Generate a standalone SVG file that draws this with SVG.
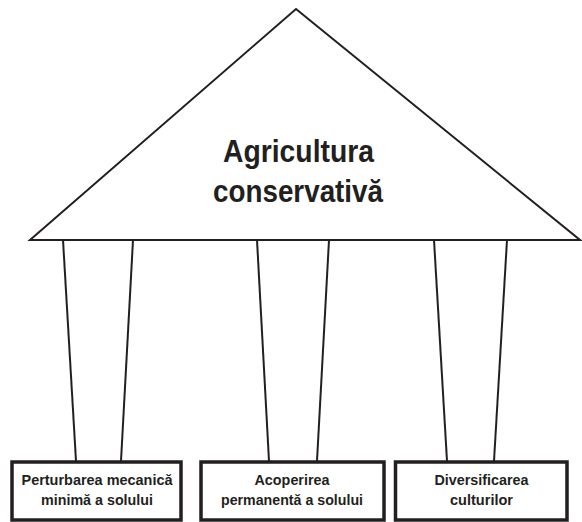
<svg xmlns="http://www.w3.org/2000/svg" width="582" height="522" viewBox="0 0 582 522">
<style>
.ln{stroke:#231f20;stroke-width:2;fill:none;stroke-linejoin:miter}
.box{stroke:#231f20;stroke-width:3.5;fill:#fff}
.t{font-family:"Liberation Sans",Arial,sans-serif;font-weight:bold;fill:#231f20;text-anchor:middle}
.big{font-size:32px}
.sm{font-size:15.5px}
</style>
<rect width="582" height="522" fill="#fff"/>
<g id="roof">
<polygon class="ln" points="296,9 580,240 30,240"/>
<text class="t big" x="298.5" y="162" textLength="151" lengthAdjust="spacingAndGlyphs">Agricultura</text>
<text class="t big" x="298" y="202" textLength="170" lengthAdjust="spacingAndGlyphs">conservativă</text>
</g>
<g id="connectors">
<line class="ln" x1="63" y1="240" x2="76" y2="461"/>
<line class="ln" x1="133" y1="240" x2="121" y2="461"/>
<line class="ln" x1="257" y1="240" x2="269" y2="461"/>
<line class="ln" x1="329" y1="240" x2="317" y2="461"/>
<line class="ln" x1="434" y1="240" x2="447" y2="461"/>
<line class="ln" x1="507" y1="240" x2="494" y2="461"/>
</g>
<g id="pillar1">
<rect class="box" x="12" y="462" width="169" height="58"/>
<text class="t sm" x="97" y="484.5" textLength="151" lengthAdjust="spacingAndGlyphs">Perturbarea mecanică</text>
<text class="t sm" x="97" y="505" textLength="112" lengthAdjust="spacingAndGlyphs">minimă a solului</text>
</g>
<g id="pillar2">
<rect class="box" x="201" y="462" width="183" height="58"/>
<text class="t sm" x="292" y="484.5" textLength="75" lengthAdjust="spacingAndGlyphs">Acoperirea</text>
<text class="t sm" x="292" y="505" textLength="142" lengthAdjust="spacingAndGlyphs">permanentă a solului</text>
</g>
<g id="pillar3">
<rect class="box" x="395.5" y="462" width="171.5" height="58"/>
<text class="t sm" x="481.5" y="484.5" textLength="94" lengthAdjust="spacingAndGlyphs">Diversificarea</text>
<text class="t sm" x="481.5" y="505" textLength="63" lengthAdjust="spacingAndGlyphs">culturilor</text>
</g>
</svg>
